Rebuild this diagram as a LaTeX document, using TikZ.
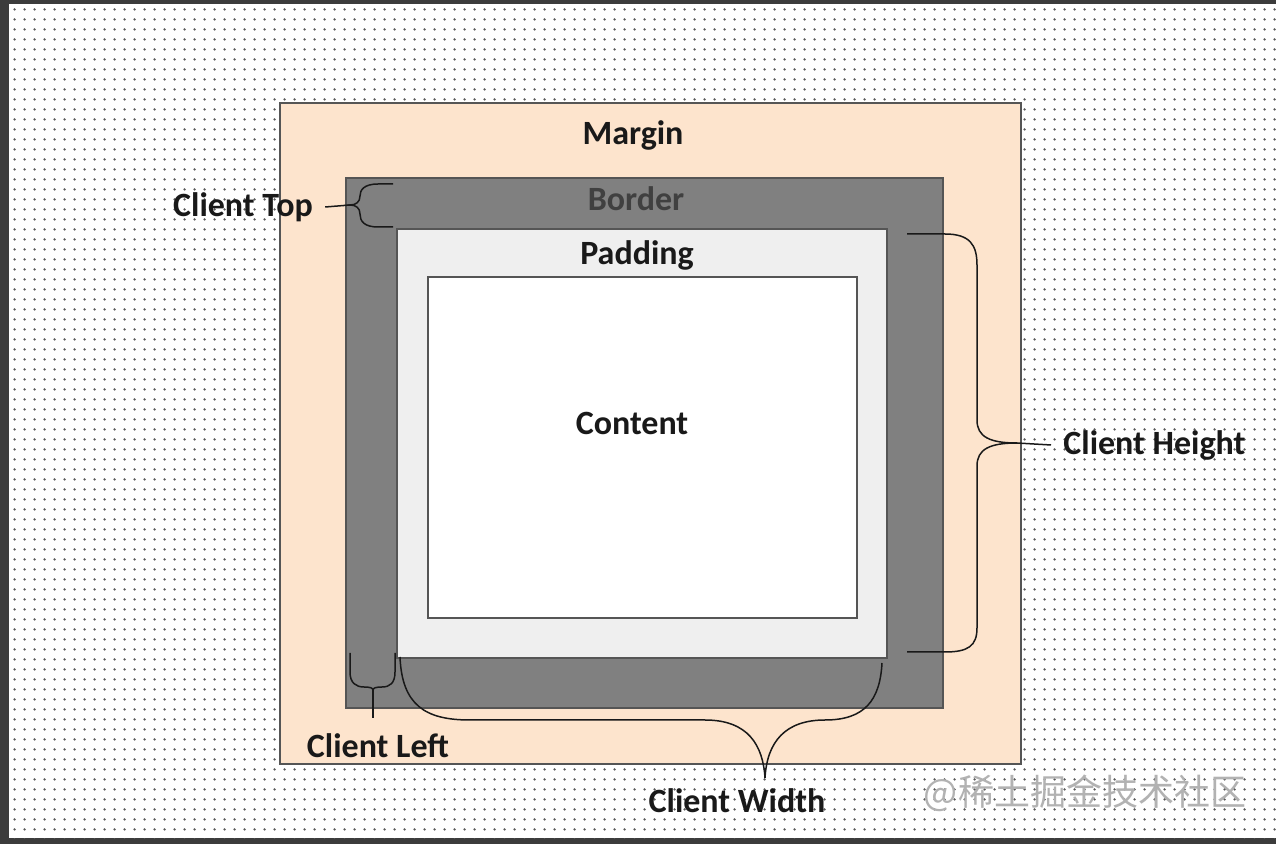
\documentclass[tikz,border=0pt]{standalone}
\usepackage{fontspec}
\setmainfont{Carlito}
\newfontfamily\cjkfont{Noto Sans CJK SC}
\usetikzlibrary{positioning, patterns.meta}
\definecolor{framegray}{HTML}{3C3C3C}
\definecolor{dotgray}{HTML}{5A5A5A}
\definecolor{marginfill}{HTML}{FDE4CD}
\definecolor{borderfill}{HTML}{808080}
\definecolor{paddingfill}{HTML}{EFEFEF}
\definecolor{edgegray}{HTML}{555555}
\definecolor{bordertext}{HTML}{404040}
\tikzdeclarepattern{
    name=paperdots,
    type=uncolored,
    bounding box={(0pt,0pt) and (5pt,5pt)},
    tile size={(5pt,5pt)},
    code={\pgfpathcircle{\pgfpoint{2.5pt}{2.5pt}}{0.7pt}\pgfusepath{fill}}
}
\tikzset{
    boxlabel/.style={font=\fontsize{17}{20}\selectfont\bfseries, inner sep=0pt, text=black!90},
    box/.style={draw=edgegray, line width=0.9pt},
    brace/.style={line width=0.75pt, black!90},
}

\begin{document}
\begin{tikzpicture}[x=0.5pt, y=-0.5pt]
    \useasboundingbox (0,0) rectangle (1276,844);
    % frame and dotted paper
    \fill[framegray] (0,0) rectangle (1276,844);
    \fill[white] (9,4) rectangle (1276,838);
    \fill[pattern=paperdots, pattern color=dotgray] (13,8) rectangle (1276,838);

    % the four boxes
    \draw[box, fill=marginfill] (280,103) rectangle (1021,764);
    \draw[box, fill=borderfill] (346,178) rectangle (943,708);
    \draw[box, fill=paddingfill] (397,229) rectangle (887,658);
    \draw[box, fill=white] (428,277) rectangle (857,618);

    \node (margin) [boxlabel] at (633,135) {Margin};
    \node (border) [boxlabel, text=bordertext] at (636,199) {Border};
    \node (padding) [boxlabel] at (637,255) {Padding};
    \node (content) [boxlabel] at (632,423) {Content};

    % labels
    \node (ctop) [boxlabel] at (243,207) {Client Top};
    \node (cleft) [boxlabel] at (378,746) {Client Left};
    \node (cwidth) [boxlabel] at (737,801) {Client Width};
    \node (cheight) [boxlabel, anchor=west] at (1063,445) {Client Height};

    % brace points
    \coordinate (tpt) at (350,205);
    \coordinate (lpt) at (373,690);
    \coordinate (lstem) at (373,718);
    \coordinate (wpt) at (765,778);
    \coordinate (hpt) at (1017,443);

    % client top
    \draw[brace] (393,184) -- (378,184) .. controls (364,184) and (360,190) .. (360,196)
        .. controls (360,202) and (356,205) .. (tpt)
        .. controls (356,205) and (360,208) .. (360,214)
        .. controls (360,221) and (364,227) .. (378,227) -- (393,227);
    \draw[brace] (tpt) -- ([xshift=6pt]ctop.east);

    % client left
    \draw[brace] (350,653) -- (350,672) .. controls (350,683) and (356,687) .. (364,687)
        .. controls (370,687) and (373,688) .. (lpt)
        .. controls (373,688) and (376,687) .. (382,687)
        .. controls (390,687) and (395,683) .. (395,672) -- (395,653);
    \draw[brace] (lpt) -- (lstem);

    % client width
    \draw[brace] (400,657) .. controls (402,705) and (425,720) .. (470,720) -- (705,720)
        .. controls (748,720) and (763,745) .. (wpt)
        .. controls (767,742) and (785,720) .. (825,720)
        .. controls (865,720) and (880,700) .. (882,663);

    % client height
    \draw[brace] (907,234) -- (945,234) .. controls (970,234) and (977,245) .. (977,265)
        -- (977,420) .. controls (977,437) and (990,443) .. (hpt)
        .. controls (990,443) and (977,449) .. (977,466)
        -- (977,628) .. controls (977,646) and (968,652) .. (945,652) -- (907,652);
    \draw[brace] (hpt) -- ([xshift=-6pt]cheight.west);

    % watermark
    \node (mark) [text=black!30, inner sep=0pt] at (1085,793)
        {\cjkfont\fontsize{18}{20}\selectfont @稀土掘金技术社区};
\end{tikzpicture}
\end{document}
